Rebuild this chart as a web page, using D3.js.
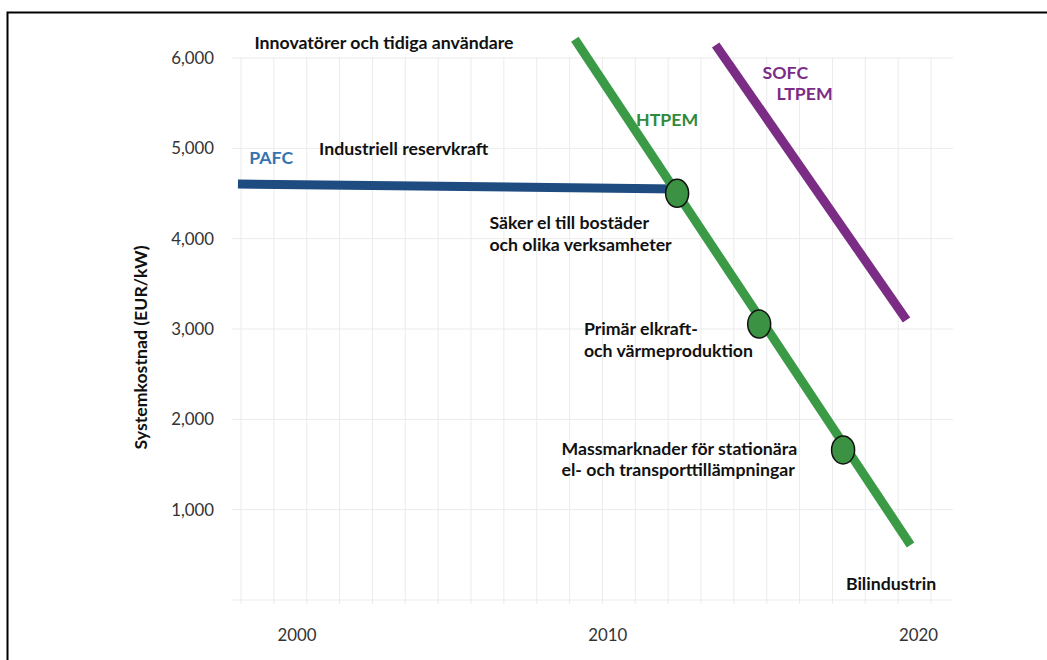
<!DOCTYPE html>
<html>
<head>
<meta charset="utf-8">
<script src="https://cdn.jsdelivr.net/npm/d3@7"></script>
<style>
body { margin: 0; background: #fff; }
svg { display: block; font-family: Lato, "Open Sans", sans-serif; }
.grid line { stroke: #ebebeb; stroke-width: 1; }
.axis .domain { display: none; }
.axis text { fill: #333; font-size: 16.8px; font-family: Lato, "Open Sans", sans-serif; }
.note { font-weight: bold; font-size: 17.7px; fill: #111; }
</style>
</head>
<body>
<script>
// tick labels
var yearTicks = [2000, 2010, 2020];
var costTicks = [1000, 2000, 3000, 4000, 5000, 6000];
var gridCosts = [0, 1000, 2000, 3000, 4000, 5000, 6000];

// series (year, EUR/kW)
var pafc = [{year: 1998.12, cost: 4605}, {year: 2012.25, cost: 4550}];
var htpem = [{year: 2008.96, cost: 6207}, {year: 2019.76, cost: 609}];
var sofc = [{year: 2013.49, cost: 6144}, {year: 2019.63, cost: 3100}];

// market milestones on the HTPEM line
var milestones = [
    {year: 2012.25, cost: 4502},
    {year: 2014.89, cost: 3055},
    {year: 2017.59, cost: 1661},
];

// text annotations, anchored in data space
var notes = [
    {lines: ['Innovatörer och tidiga användare'], year: 1998.65, cost: 6165},
    {lines: ['Industriell reservkraft'], year: 2000.73, cost: 4993},
    {lines: ['PAFC'], year: 1998.48, cost: 4893, color: '#3572b2'},
    {lines: ['HTPEM'], year: 2010.93, cost: 5321, color: '#2f8a3b'},
    {lines: ['SOFC'], year: 2015.0, cost: 5831, color: '#7b2c84'},
    {lines: ['LTPEM'], year: 2015.45, cost: 5601, color: '#7b2c84'},
    {lines: ['Säker el till bostäder', 'och olika verksamheter'], year: 2006.21, cost: 4177},
    {lines: ['Primär elkraft-', 'och värmeproduktion'], year: 2009.25, cost: 2997},
    {lines: ['Massmarknader för stationära', 'el- och transporttillämpningar'], year: 2008.53, cost: 1679},
    {lines: ['Bilindustrin'], year: 2017.68, cost: 174},
];

var width = 1047, height = 660;

var svg = d3.select('body').append('svg')
    .attr('width', width)
    .attr('height', height);

var x = d3.scaleLinear().domain([2000, 2020]).range([296.4, 918]);
var y = d3.scaleLinear().domain([0, 6000]).range([600, 58]);
// the light vertical grid is finer than the year ticks
var gridX = d3.scaleLinear().domain([0, 21]).range([241, 931]);

// frame
svg.append('rect')
    .attr('x', 7.5)
    .attr('y', 12.5)
    .attr('width', 1100)
    .attr('height', 700)
    .attr('fill', 'none')
    .attr('stroke', '#000')
    .attr('stroke-width', 2);

var grid = svg.append('g').attr('class', 'grid');
grid.selectAll('line.v')
    .data(d3.range(22))
    .enter()
    .append('line')
    .attr('class', 'v')
    .attr('x1', d => gridX(d))
    .attr('x2', d => gridX(d))
    .attr('y1', 57)
    .attr('y2', 604);
grid.selectAll('line.h')
    .data(gridCosts)
    .enter()
    .append('line')
    .attr('class', 'h')
    .attr('x1', 232)
    .attr('x2', 953)
    .attr('y1', d => y(d))
    .attr('y2', d => y(d));

svg.append('g')
    .attr('class', 'axis')
    .attr('transform', 'translate(232, 0)')
    .call(d3.axisLeft(y).tickValues(costTicks).tickFormat(d3.format(',')).tickSize(0).tickPadding(18));

svg.append('g')
    .attr('class', 'axis')
    .attr('transform', 'translate(0, 600)')
    .call(d3.axisBottom(x).tickValues(yearTicks).tickFormat(d3.format('d')).tickSize(0).tickPadding(29));

svg.append('text')
    .attr('class', 'note')
    .attr('transform', 'translate(141, 347.5) rotate(-90)')
    .attr('text-anchor', 'middle')
    .attr('dy', '0.35em')
    .text('Systemkostnad (EUR/kW)');

var line = d3.line()
    .x(d => x(d.year))
    .y(d => y(d.cost));

var series = [
    {values: pafc, color: '#1e4b80'},
    {values: htpem, color: '#3b9a46'},
    {values: sofc, color: '#7b2c84'},
];

svg.selectAll('path.series')
    .data(series)
    .enter()
    .append('path')
    .attr('class', 'series')
    .attr('fill', 'none')
    .attr('stroke', d => d.color)
    .attr('stroke-width', 9)
    .attr('d', d => line(d.values));

svg.selectAll('ellipse.milestone')
    .data(milestones)
    .enter()
    .append('ellipse')
    .attr('class', 'milestone')
    .attr('cx', d => x(d.year))
    .attr('cy', d => y(d.cost))
    .attr('rx', 11.5)
    .attr('ry', 14)
    .attr('fill', '#3a9242')
    .attr('stroke', '#111')
    .attr('stroke-width', 1.5);

var labels = svg.selectAll('text.label')
    .data(notes)
    .enter()
    .append('text')
    .attr('class', 'note label')
    .attr('x', d => x(d.year))
    .attr('y', d => y(d.cost))
    .style('fill', d => d.color || '#111');
labels.selectAll('tspan')
    .data(d => d.lines.map(t => ({t: t, x: x(d.year)})))
    .enter()
    .append('tspan')
    .attr('x', d => d.x)
    .attr('dy', (d, i) => i ? '1.23em' : '0.35em')
    .text(d => d.t);
</script>
</body>
</html>
